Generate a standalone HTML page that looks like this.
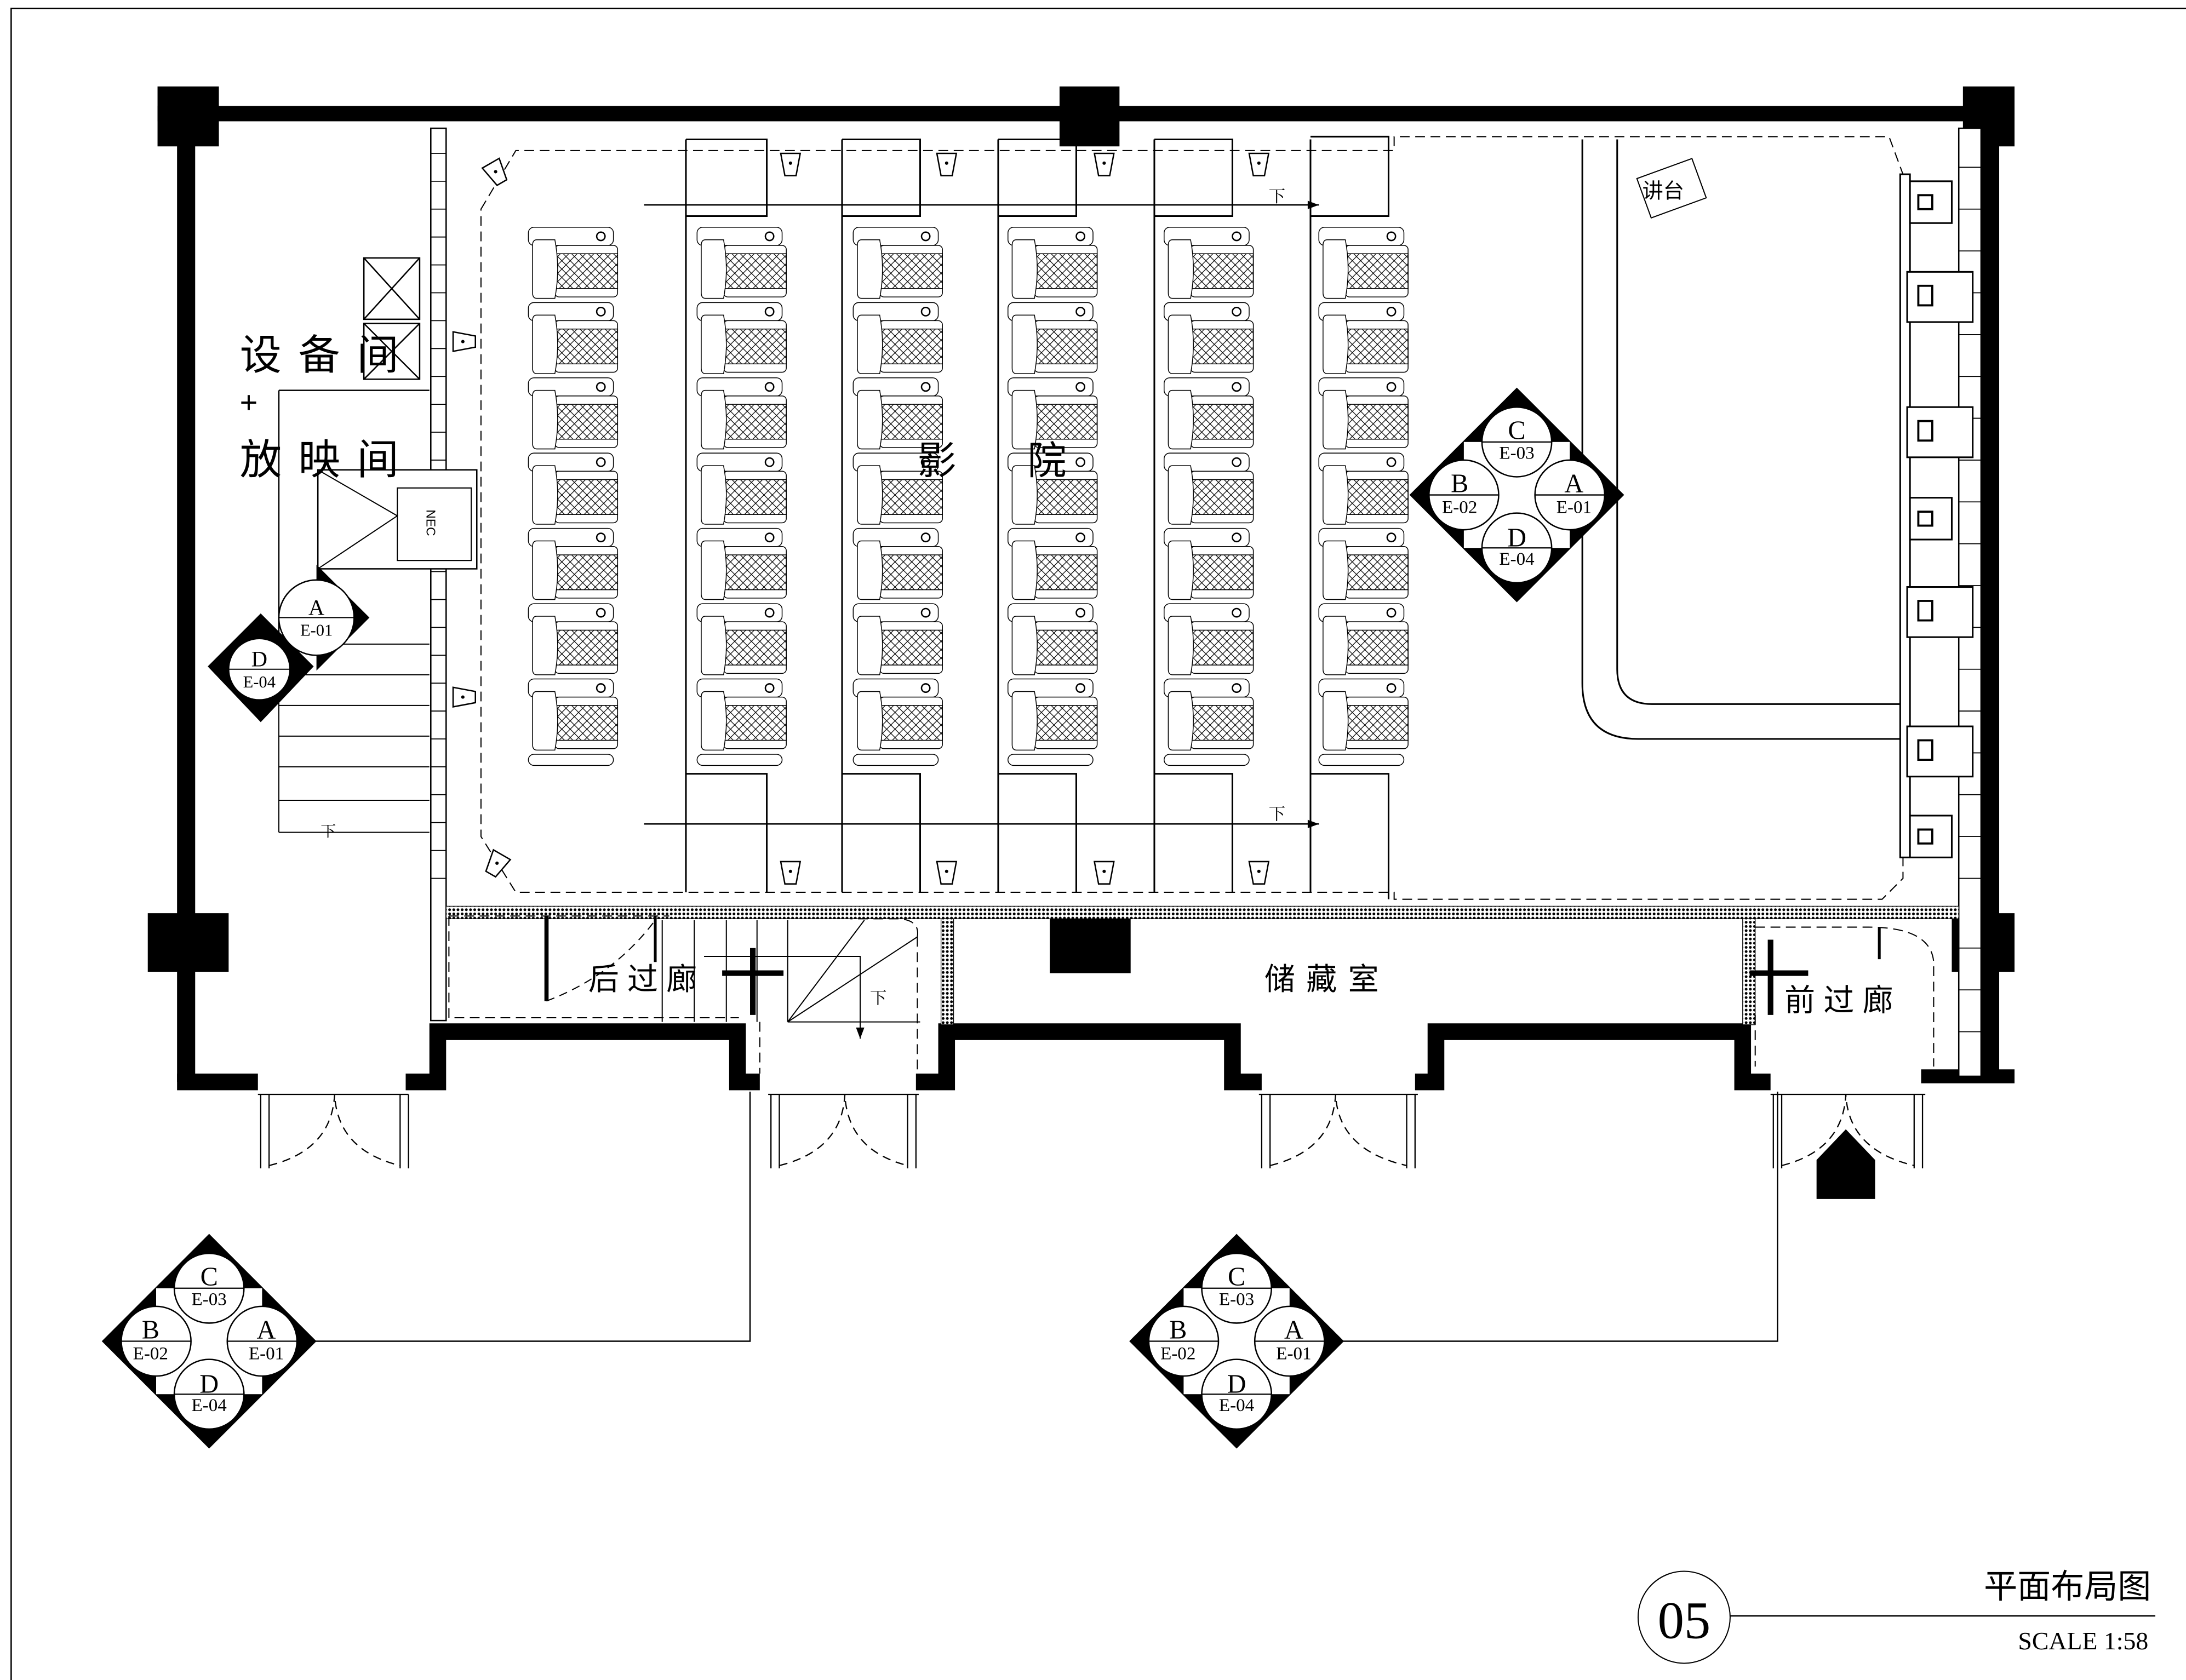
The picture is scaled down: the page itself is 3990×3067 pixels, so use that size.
<!DOCTYPE html>
<html><head><meta charset="utf-8"><style>
html,body{margin:0;padding:0;background:#fff;}
svg{display:block;}
text{font-family:"Liberation Sans","Noto Sans CJK SC",sans-serif;}
.serif{font-family:"Liberation Serif","Noto Serif CJK SC",serif;}
</style></head><body>
<svg width="3990" height="3067" viewBox="0 0 1568 1205" preserveAspectRatio="none" xmlns="http://www.w3.org/2000/svg">
<defs>
<pattern id="hx" width="6" height="6" patternUnits="userSpaceOnUse">
<path d="M0 0L6 6M6 0L0 6" stroke="#000" stroke-width="0.5"/>
</pattern>
<pattern id="dots" width="3" height="3" patternUnits="userSpaceOnUse">
<rect width="3" height="3" fill="#fff"/><circle cx="1.5" cy="1.5" r="1" fill="#000"/>
</pattern>
<g id="seat">
<rect x="0" y="0" width="61" height="13" rx="4" fill="#fff" stroke="#000" stroke-width="0.6"/>
<circle cx="52" cy="6.5" r="3" fill="none" stroke="#000" stroke-width="1"/>
<rect x="19" y="13" width="45" height="37" rx="3" fill="#fff" stroke="#000" stroke-width="0.6"/>
<rect x="19" y="19" width="45" height="25" fill="url(#hx)" stroke="#000" stroke-width="0.6"/>
<path d="M6 9H19Q23 30 19 51H6Q3 51 3 47V13Q3 9 6 9Z" fill="#fff" stroke="#000" stroke-width="0.6"/>
</g>
<g id="dia">
<path d="M0 -77L77 0L0 77L-77 0Z" fill="#000"/>
<rect x="-38" y="-38" width="76" height="76" fill="#fff"/>
<g fill="#fff" stroke="#000" stroke-width="1">
<circle cx="0" cy="-38" r="25"/><circle cx="0" cy="38" r="25"/>
<circle cx="-38" cy="0" r="25"/><circle cx="38" cy="0" r="25"/>
</g>
<g stroke="#000" stroke-width="0.9">
<line x1="-25" y1="-38" x2="25" y2="-38"/><line x1="-25" y1="38" x2="25" y2="38"/>
<line x1="-63" y1="0" x2="-13" y2="0"/><line x1="13" y1="0" x2="63" y2="0"/>
</g>
</g>
<g id="spk"><path d="M-7 -8L7 -8L4 8L-4 8Z" fill="#fff" stroke="#000" stroke-width="1"/><circle cx="0" cy="-1" r="1.2"/></g>
</defs>
<rect width="1568" height="1205" fill="#fff"/>
<path d="M8 1205V6H1568" fill="none" stroke="#000" stroke-width="1"/>

<!-- main walls -->
<rect x="113" y="76" width="1332" height="11" fill="#000"/>
<rect x="113" y="62" width="44" height="43" fill="#000"/>
<rect x="760" y="62" width="43" height="43" fill="#000"/>
<rect x="1408" y="62" width="37" height="43" fill="#000"/>
<rect x="127" y="86" width="13" height="690" fill="#000"/>
<rect x="1421" y="86" width="13" height="690" fill="#000"/>
<rect x="106" y="655" width="58" height="42" fill="#000"/>
<rect x="1400" y="655" width="45" height="42" fill="#000"/>
<rect x="753" y="650" width="58" height="48" fill="#000"/>
<polyline points="127,776 185,776" stroke="#000" stroke-width="12" fill="none"/>
<polyline points="291,776 314,776 314,740 529,740 529,776 545,776" stroke="#000" stroke-width="12" fill="none" stroke-linejoin="miter"/>
<polyline points="657,776 679,776 679,740 884,740 884,776 905,776" stroke="#000" stroke-width="12" fill="none"/>
<polyline points="1015,776 1030,776 1030,740 1250,740 1250,776 1270,776" stroke="#000" stroke-width="12" fill="none"/>
<polyline points="1378,772 1445,772" stroke="#000" stroke-width="10" fill="none"/>

<!-- hatched thin walls -->
<rect x="309" y="92" width="11" height="640" fill="#fff" stroke="#000" stroke-width="1"/>
<g stroke="#000" stroke-width="0.7">
<path d="M309 110h11M309 130h11M309 150h11M309 170h11M309 190h11M309 210h11M309 230h11M309 250h11M309 270h11M309 290h11M309 310h11M309 330h11M309 350h11M309 370h11M309 390h11M309 410h11M309 430h11M309 450h11M309 470h11M309 490h11M309 510h11M309 530h11M309 550h11M309 570h11M309 590h11M309 610h11M309 630h11"/>
</g>
<rect x="1405" y="92" width="16" height="680" fill="#fff" stroke="#000" stroke-width="1"/>
<g stroke="#000" stroke-width="0.7">
<path d="M1405 120h16M1405 150h16M1405 180h16M1405 210h16M1405 240h16M1405 270h16M1405 300h16M1405 330h16M1405 360h16M1405 390h16M1405 420h16M1405 450h16M1405 480h16M1405 510h16M1405 540h16M1405 570h16M1405 600h16M1405 630h16M1405 680h16M1405 710h16M1405 740h16"/>
</g>
<rect x="320" y="650" width="1085" height="9" fill="url(#dots)" stroke="#000" stroke-width="0.5"/>
<rect x="675" y="659" width="9" height="76" fill="url(#dots)" stroke="#000" stroke-width="0.5"/>
<rect x="1250" y="659" width="9" height="76" fill="url(#dots)" stroke="#000" stroke-width="0.5"/>

<!-- left room -->
<rect x="261" y="185" width="40" height="44" fill="none" stroke="#000" stroke-width="1"/>
<path d="M261 185L301 229M301 185L261 229" stroke="#000" stroke-width="1"/>
<rect x="261" y="232" width="40" height="40" fill="none" stroke="#000" stroke-width="1"/>
<path d="M261 232L301 272M301 232L261 272" stroke="#000" stroke-width="1"/>
<path d="M200 280H308M200 280V462" fill="none" stroke="#000" stroke-width="1"/>
<rect x="228" y="337" width="114" height="71" fill="#fff" stroke="#000" stroke-width="1"/>
<path d="M228 337L285 370L228 408M285 350H338V402H285Z" fill="none" stroke="#000" stroke-width="0.8"/>
<text x="306" y="375" font-size="9" transform="rotate(90 306 375)" text-anchor="middle">NEC</text>
<g stroke="#000" stroke-width="0.8">
<path d="M200 462H308M200 484H308M200 506H308M200 528H308M200 550H308M200 574H308M200 597H308M200 462V597"/>
</g>
<text x="230" y="600" font-size="11" class="serif">下</text>
<!-- small diamond at left -->
<path d="M227 405L265 443L227 481Z" fill="#000"/>
<path d="M187 440L225 478L187 518L149 478Z" fill="#000"/>
<circle cx="227" cy="443" r="27" fill="#fff" stroke="#000"/>
<line x1="200" y1="443" x2="254" y2="443" stroke="#000" stroke-width="0.8"/>
<text x="227" y="441" font-size="16" text-anchor="middle" class="serif">A</text>
<text x="227" y="456" font-size="12" text-anchor="middle" class="serif">E-01</text>
<circle cx="186" cy="480" r="22" fill="#fff" stroke="#000"/>
<line x1="164" y1="480" x2="208" y2="480" stroke="#000" stroke-width="0.8"/>
<text x="186" y="478" font-size="16" text-anchor="middle" class="serif">D</text>
<text x="186" y="493" font-size="12" text-anchor="middle" class="serif">E-04</text>

<text x="172" y="265" font-size="30" letter-spacing="12">设备间</text>
<text x="172" y="296" font-size="22">+</text>
<text x="172" y="340" font-size="30" letter-spacing="12">放映间</text>

<!-- cinema dashed outline -->
<path d="M345 150L370 108H1000L1000 98H1355L1365 125V630L1350 645H1000V640H370L345 600Z" fill="none" stroke="#000" stroke-width="0.8" stroke-dasharray="7 4"/>
<!-- aisles -->
<g stroke="#000" stroke-width="1.2" fill="none">
<path d="M492 100V640M604 100V640M716 100V640M828 100V640M940 100V640"/>
<path d="M492 100H550V155H492M604 100H660V155H604M716 100H772V155H716M828 100H884V155H828M940 98H996V155H940"/>
<path d="M492 555H550V640M604 555H660V640M716 555H772V640M828 555H884V640M940 555H996V645"/>
<path d="M462 147H946M462 591H946" stroke-width="1"/>
</g>
<path d="M946 147l-8 -3v6z M946 591l-8 -3v6z" fill="#000"/>
<text x="910" y="145" font-size="12" class="serif">下</text>
<text x="910" y="588" font-size="12" class="serif">下</text>
<!-- speakers -->
<use href="#spk" x="567" y="118"/><use href="#spk" x="679" y="118"/><use href="#spk" x="792" y="118"/><use href="#spk" x="903" y="118"/>
<use href="#spk" x="567" y="626"/><use href="#spk" x="679" y="626"/><use href="#spk" x="792" y="626"/><use href="#spk" x="903" y="626"/>
<use href="#spk" x="356" y="124" transform="rotate(-30 356 124)"/>
<use href="#spk" x="356" y="620" transform="rotate(30 356 620)"/>
<use href="#spk" x="333" y="245" transform="rotate(-90 333 245)"/>
<use href="#spk" x="333" y="500" transform="rotate(-90 333 500)"/>

<!-- seats -->
<g>
<use href="#seat" x="379" y="163"/><use href="#seat" x="379" y="217"/><use href="#seat" x="379" y="271"/><use href="#seat" x="379" y="325"/><use href="#seat" x="379" y="379"/><use href="#seat" x="379" y="433"/><use href="#seat" x="379" y="487"/>
<use href="#seat" x="500" y="163"/><use href="#seat" x="500" y="217"/><use href="#seat" x="500" y="271"/><use href="#seat" x="500" y="325"/><use href="#seat" x="500" y="379"/><use href="#seat" x="500" y="433"/><use href="#seat" x="500" y="487"/>
<use href="#seat" x="612" y="163"/><use href="#seat" x="612" y="217"/><use href="#seat" x="612" y="271"/><use href="#seat" x="612" y="325"/><use href="#seat" x="612" y="379"/><use href="#seat" x="612" y="433"/><use href="#seat" x="612" y="487"/>
<use href="#seat" x="723" y="163"/><use href="#seat" x="723" y="217"/><use href="#seat" x="723" y="271"/><use href="#seat" x="723" y="325"/><use href="#seat" x="723" y="379"/><use href="#seat" x="723" y="433"/><use href="#seat" x="723" y="487"/>
<use href="#seat" x="835" y="163"/><use href="#seat" x="835" y="217"/><use href="#seat" x="835" y="271"/><use href="#seat" x="835" y="325"/><use href="#seat" x="835" y="379"/><use href="#seat" x="835" y="433"/><use href="#seat" x="835" y="487"/>
<use href="#seat" x="946" y="163"/><use href="#seat" x="946" y="217"/><use href="#seat" x="946" y="271"/><use href="#seat" x="946" y="325"/><use href="#seat" x="946" y="379"/><use href="#seat" x="946" y="433"/><use href="#seat" x="946" y="487"/>
</g>
<g fill="#fff" stroke="#000" stroke-width="0.6">
<rect x="379" y="541" width="61" height="8" rx="4"/><rect x="500" y="541" width="61" height="8" rx="4"/><rect x="612" y="541" width="61" height="8" rx="4"/><rect x="723" y="541" width="61" height="8" rx="4"/><rect x="835" y="541" width="61" height="8" rx="4"/><rect x="946" y="541" width="61" height="8" rx="4"/>
</g>
<text x="658" y="340" font-size="28">影</text>
<text x="737" y="340" font-size="28">院</text>

<!-- stage -->
<path d="M1135 100V490Q1135 530 1175 530H1365M1160 100V480Q1160 505 1185 505H1365" fill="none" stroke="#000" stroke-width="1.2"/>
<rect x="1178" y="120" width="42" height="30" fill="#fff" stroke="#000" stroke-width="0.8" transform="rotate(-20 1199 135)"/>
<text x="1178" y="142" font-size="15">讲台</text>
<rect x="1363" y="125" width="7" height="490" fill="#fff" stroke="#000" stroke-width="1.2"/>
<g fill="#fff" stroke="#000" stroke-width="1.2">
<rect x="1370" y="130" width="30" height="30"/><rect x="1368" y="195" width="47" height="36"/>
<rect x="1368" y="292" width="47" height="36"/><rect x="1370" y="357" width="30" height="30"/>
<rect x="1368" y="421" width="47" height="36"/><rect x="1368" y="521" width="47" height="36"/>
<rect x="1370" y="585" width="30" height="30"/>
</g>
<g fill="none" stroke="#000" stroke-width="1.5">
<path d="M1376 140h10v10h-10z M1376 205h10v14h-10z M1376 302h10v14h-10z M1376 367h10v10h-10z M1376 431h10v14h-10z M1376 531h10v14h-10z M1376 595h10v10h-10z"/>
</g>

<!-- right diamond -->
<use href="#dia" x="1088" y="355"/>
<g font-size="19" text-anchor="middle">
<text x="1088" y="315" class="serif">C</text><text x="1088" y="392" class="serif">D</text><text x="1047" y="353" class="serif">B</text><text x="1129" y="353" class="serif">A</text>
</g>
<g font-size="13" text-anchor="middle">
<text x="1088" y="329" class="serif">E-03</text><text x="1088" y="405" class="serif">E-04</text><text x="1047" y="368" class="serif">E-02</text><text x="1129" y="368" class="serif">E-01</text>
</g>

<!-- corridors -->
<path d="M322 657H480M322 657V730H530" fill="none" stroke="#000" stroke-width="0.8" stroke-dasharray="7 4"/>
<path d="M392 657V718" stroke="#000" stroke-width="3"/>
<path d="M470 657V690" stroke="#000" stroke-width="2"/>
<path d="M392 718Q440 700 470 660" fill="none" stroke="#000" stroke-width="0.8" stroke-dasharray="6 4"/>
<g stroke="#000" stroke-width="0.8" fill="none">
<path d="M475 660V733M498 660V733M521 660V733M543 660V733M565 660V733M505 686H617V733M565 733H660"/>
<path d="M565 733L620 660M565 733L658 672"/>
<path d="M545 733V770M658 672Q660 660 645 659H610M658 672V770" stroke-dasharray="7 4"/>
<path d="M617 733V745"/>
</g>
<path d="M617 745l-3 -8h6z" fill="#000"/>
<text x="624" y="720" font-size="12" class="serif">下</text>
<path d="M540 680V728M518 698H562" stroke="#000" stroke-width="4"/>
<text x="422" y="710" font-size="22" letter-spacing="6">后过廊</text>
<text x="907" y="710" font-size="22" letter-spacing="8">储藏室</text>
<path d="M1270 674V728M1255 698H1297" stroke="#000" stroke-width="4"/>
<path d="M1259 665H1340Q1385 665 1387 690V765M1259 728V765" fill="none" stroke="#000" stroke-width="0.8" stroke-dasharray="7 4"/>
<path d="M1348 665V688" stroke="#000" stroke-width="2"/>
<text x="1280" y="725" font-size="22" letter-spacing="6">前过廊</text>

<!-- doors -->
<g fill="none" stroke="#000" stroke-width="0.9">
<path d="M187 785V838M193 785V838M287 785V838M293 785V838M185 785H293"/>
<path d="M193 836Q238 825 240 785Q242 825 287 836" stroke-dasharray="6 4"/>
<path d="M553 785V838M559 785V838M651 785V838M657 785V838M551 785H659"/>
<path d="M559 836Q604 825 606 785Q608 825 651 836" stroke-dasharray="6 4"/>
<path d="M905 785V838M911 785V838M1009 785V838M1015 785V838M903 785H1017"/>
<path d="M911 836Q956 825 958 785Q960 825 1009 836" stroke-dasharray="6 4"/>
<path d="M1272 785V838M1278 785V838M1373 785V838M1379 785V838M1270 785H1381"/>
<path d="M1278 836Q1322 825 1324 785Q1326 825 1373 836" stroke-dasharray="6 4"/>
</g>
<path d="M1303 860V832L1324 810L1345 832V860Z" fill="#000"/>

<!-- bottom diamonds + connectors -->
<path d="M226 962H538V783M963 962H1275V783" fill="none" stroke="#000" stroke-width="1"/>
<use href="#dia" x="150" y="962"/>
<use href="#dia" x="887" y="962"/>
<g font-size="19" text-anchor="middle">
<text x="150" y="922" class="serif">C</text><text x="150" y="999" class="serif">D</text><text x="108" y="960" class="serif">B</text><text x="191" y="960" class="serif">A</text>
<text x="887" y="922" class="serif">C</text><text x="887" y="999" class="serif">D</text><text x="845" y="960" class="serif">B</text><text x="928" y="960" class="serif">A</text>
</g>
<g font-size="13" text-anchor="middle">
<text x="150" y="936" class="serif">E-03</text><text x="150" y="1012" class="serif">E-04</text><text x="108" y="975" class="serif">E-02</text><text x="191" y="975" class="serif">E-01</text>
<text x="887" y="936" class="serif">E-03</text><text x="887" y="1012" class="serif">E-04</text><text x="845" y="975" class="serif">E-02</text><text x="928" y="975" class="serif">E-01</text>
</g>

<!-- title block -->
<ellipse cx="1208" cy="1160" rx="33" ry="33" fill="none" stroke="#000" stroke-width="0.8"/>
<text x="1208" y="1175" font-size="38" text-anchor="middle" class="serif">05</text>
<path d="M1241 1159H1546" stroke="#000" stroke-width="1"/>
<text x="1543" y="1146" font-size="24" text-anchor="end">平面布局图</text>
<text x="1541" y="1183" font-size="18" text-anchor="end" class="serif">SCALE 1:58</text>
</svg>
</body></html>
